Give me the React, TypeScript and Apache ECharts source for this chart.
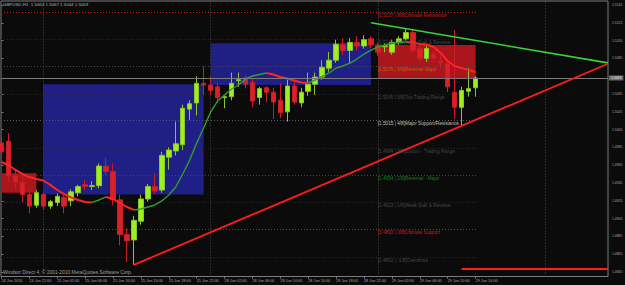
import React, { useEffect, useRef } from "react";
import * as echarts from "echarts";

const FONT = "Liberation Sans";

const timeLabels = ["24 Jun 2010", "24 Jun 22:00", "25 Jun 02:00", "25 Jun 06:00", "25 Jun 10:00", "25 Jun 14:00", "25 Jun 18:00", "25 Jun 22:00", "28 Jun 02:00", "28 Jun 06:00", "28 Jun 10:00", "28 Jun 14:00", "28 Jun 18:00", "28 Jun 22:00", "29 Jun 02:00", "29 Jun 06:00", "29 Jun 10:00", "29 Jun 14:00"];
const timeLabelBars = [0, 4, 8, 12, 16, 20, 24, 28, 32, 36, 40, 44, 48, 52, 56, 60, 64, 68];
const priceTicks = [1.4845, 1.4865, 1.4885, 1.4905, 1.4925, 1.4945, 1.4965, 1.4985, 1.5005, 1.5025, 1.5045, 1.5085, 1.5105, 1.5125, 1.5145];

const opens = [1.4990, 1.4992, 1.4953, 1.4946, 1.4932, 1.4920, 1.4932, 1.4919, 1.4923, 1.4929,
  1.4925, 1.4934, 1.4943, 1.4941, 1.4942, 1.4964, 1.4958, 1.4926, 1.4887, 1.4881,
  1.4902, 1.4927, 1.4941, 1.4937, 1.4974, 1.4981, 1.4988, 1.5028, 1.5035, 1.5057,
  1.5055, 1.5053, 1.5041, 1.5042, 1.5060, 1.5063, 1.5058, 1.5041, 1.5052, 1.5047,
  1.5038, 1.5025, 1.5054, 1.5035, 1.5048, 1.5056, 1.5064, 1.5074, 1.5083, 1.5101,
  1.5094, 1.5103, 1.5099, 1.5107, 1.5100, 1.5098, 1.5092, 1.5103, 1.5107, 1.5114,
  1.5096, 1.5085, 1.5090, 1.5082, 1.5079, 1.5047, 1.5030, 1.5048, 1.5052];
const closes = [1.4980, 1.4953, 1.4946, 1.4932, 1.4919, 1.4934, 1.4919, 1.4924, 1.4930, 1.4919,
  1.4935, 1.4941, 1.4941, 1.4942, 1.4964, 1.4958, 1.4926, 1.4887, 1.4880, 1.4903,
  1.4927, 1.4941, 1.4936, 1.4976, 1.4982, 1.4989, 1.5029, 1.5034, 1.5057, 1.5055,
  1.5049, 1.5041, 1.5042, 1.5057, 1.5061, 1.5056, 1.5037, 1.5051, 1.5047, 1.5036,
  1.5024, 1.5054, 1.5036, 1.5047, 1.5056, 1.5064, 1.5075, 1.5083, 1.5101, 1.5094,
  1.5103, 1.5099, 1.5106, 1.5100, 1.5092, 1.5099, 1.5103, 1.5107, 1.5114, 1.5094,
  1.5085, 1.5096, 1.5085, 1.5080, 1.5053, 1.5030, 1.5049, 1.5051, 1.5063];
const lows = [1.4973, 1.4945, 1.4937, 1.4923, 1.4911, 1.4917, 1.4915, 1.4916, 1.4919, 1.4911,
  1.4919, 1.4930, 1.4937, 1.4937, 1.4939, 1.4954, 1.4920, 1.4875, 1.4856, 1.4853,
  1.4898, 1.4924, 1.4933, 1.4934, 1.4960, 1.4976, 1.4982, 1.5016, 1.5021, 1.5044,
  1.5044, 1.5035, 1.5029, 1.5038, 1.5053, 1.5052, 1.5030, 1.5033, 1.5036, 1.5017,
  1.5018, 1.5014, 1.5033, 1.5030, 1.5043, 1.5044, 1.5061, 1.5070, 1.5080, 1.5089,
  1.5080, 1.5094, 1.5096, 1.5097, 1.5088, 1.5092, 1.5089, 1.5100, 1.5105, 1.5091,
  1.5081, 1.5081, 1.5081, 1.5074, 1.5047, 1.5017, 1.5010, 1.5042, 1.5042];
const highs = [1.4996, 1.5001, 1.4960, 1.4953, 1.4937, 1.4937, 1.4935, 1.4926, 1.4933, 1.4932,
  1.4938, 1.4943, 1.4948, 1.4947, 1.4967, 1.4973, 1.4967, 1.4932, 1.4894, 1.4908,
  1.4932, 1.4944, 1.4956, 1.4980, 1.4985, 1.5014, 1.5033, 1.5038, 1.5065, 1.5076,
  1.5065, 1.5057, 1.5044, 1.5069, 1.5069, 1.5066, 1.5063, 1.5053, 1.5054, 1.5052,
  1.5057, 1.5061, 1.5061, 1.5052, 1.5069, 1.5069, 1.5083, 1.5092, 1.5106, 1.5108,
  1.5108, 1.5110, 1.5111, 1.5110, 1.5103, 1.5102, 1.5106, 1.5110, 1.5119, 1.5117,
  1.5099, 1.5099, 1.5094, 1.5089, 1.5081, 1.5117, 1.5053, 1.5074, 1.5065];

const maValues = [1.49686, 1.49652, 1.49596, 1.49551, 1.49517, 1.49495, 1.49478, 1.49428, 1.49371, 1.49326,
  1.49287, 1.49259, 1.49237, 1.49231, 1.49259, 1.49293, 1.49270, 1.49225, 1.49180, 1.49147,
  1.49158, 1.49180, 1.49203, 1.49248, 1.49315, 1.49405, 1.49551, 1.49708, 1.49899, 1.50068,
  1.50248, 1.50371, 1.50439, 1.50506, 1.50551, 1.50619, 1.50652, 1.50669, 1.50686, 1.50669,
  1.50641, 1.50624, 1.50602, 1.50579, 1.50574, 1.50607, 1.50647, 1.50686, 1.50742, 1.50765,
  1.50798, 1.50843, 1.50899, 1.50944, 1.50978, 1.51001, 1.51017, 1.51029, 1.51034, 1.51029,
  1.51012, 1.51006, 1.50978, 1.50911, 1.50821, 1.50765, 1.50742, 1.50720, 1.50697];

const mmLevels = [1.5137, 1.5106, 1.5076, 1.5045, 1.5015, 1.4984, 1.4954, 1.4923, 1.4893, 1.4862];
const mmNames = ["8/8]Ultimate Resistance", "7/8]Weak Stall & Reverse", "6/8]Reversal Major", "5/8]Top Trading Range", "4/8]Major Support/Resistance", "3/8]Bottom - Trading Range", "2/8]Reversal - Major", "1/8]Weak Stall & Reverse", "0/8]Ultimate Support", "-1/8]Overshoot"];
const mmTextColors = ["#e02424", "#5a5a5a", "#c47a1a", "#5a5a5a", "#e6e6e6", "#5a5a5a", "#1f9a1f", "#5a5a5a", "#f02020", "#5a5a5a"];
const mmLineColors = ["#c81c1c", "#262626", "#4a4a4a", "#262626", "#5a5a5a", "#262626", "#2c5a2c", "#262626", "#c81c1c", "#262626"];

const boxStart = [6, 30, 54, -0.07];
const boxEnd = [29, 53, 68, 5];
const boxTop = [1.5056, 1.5102, 1.5100, 1.4956];
const boxBottom = [1.4932, 1.5055, 1.5062, 1.4934];
const boxColors = ["#1f1f86", "#1f1f86", "#aa161b", "#aa161b"];

const daySeparators = [6, 30, 54, 78];
const currentPrice = 1.5063;
const trendGreen = [[53, 1.5125], [87, 1.5080]];
const trendRed = [[19, 1.4853], [87, 1.5079]];
const supportLine = [[66, 1.4849], [87, 1.4849]];

const X_MIN = -0.07;
const X_MAX = 87;
const Y_MIN = 1.48399;
const Y_MAX = 1.51495;

export default function App() {
  const ref = useRef<HTMLDivElement>(null);
  useEffect(() => {
    document.body.style.margin = "0";
    const chart = echarts.init(ref.current!, null, { renderer: "svg" });

    const candleData = opens.map((o, i) => [i, o, closes[i], lows[i], highs[i]]);
    const up = (i: number) => i > 0 && maValues[i] > maValues[i - 1];
    const greenData = maValues.map((v, i) => (up(i) || (i + 1 < maValues.length && up(i + 1)) ? [i, v] : [i, "-"]));
    const redData = maValues.map((v, i) => ((i > 0 && !up(i)) || (i + 1 < maValues.length && !up(i + 1)) ? [i, v] : [i, "-"]));

    const boxAreas = boxStart.map((s, i) => [
      { coord: [s, boxTop[i]], itemStyle: { color: boxColors[i], opacity: 1 } },
      { coord: [boxEnd[i], boxBottom[i]] },
    ]);

    const mmLines = mmLevels.map((p, i) => [
      { coord: [X_MIN, p], lineStyle: { color: mmLineColors[i], width: 1, type: [1, 2] } },
      { coord: [68.2, p] },
    ]);
    const sepLines = daySeparators.map((x) => [
      { coord: [x, Y_MIN], lineStyle: { color: "#4a4a4a", width: 1, type: [1, 2] } },
      { coord: [x, Y_MAX] },
    ]);

    const option: any = {
      animation: false,
      backgroundColor: "#0b0b0b",
      title: [
        {
          text: "GBPUSD,H1  1.5063 1.5067 1.5044 1.5063",
          left: 3, top: 2, padding: 0,
          textStyle: { color: "#b4b4b4", fontSize: 4.4, fontWeight: "normal", fontFamily: FONT },
        },
        {
          text: "Windsor Direct 4, © 2001-2010 MetaQuotes Software Corp.",
          left: 3, top: 270, padding: 0,
          textStyle: { color: "#a0a0a0", fontSize: 4.9, fontWeight: "normal", fontFamily: FONT },
        },
      ],
      grid: {
        left: 1, right: 17, top: 1, bottom: 8.5,
        show: true, borderColor: "#7c7c7c", borderWidth: 1, backgroundColor: "transparent",
        containLabel: false, outerBoundsMode: "none",
      },
      xAxis: {
        type: "value", min: X_MIN, max: X_MAX,
        splitLine: { show: false },
        axisLine: { show: false },
        axisTick: { show: true, customValues: timeLabelBars, length: 2, lineStyle: { color: "#7c7c7c" } },
        axisLabel: {
          customValues: timeLabelBars,
          formatter: (v: number) => {
            const k = timeLabelBars.indexOf(Math.round(v));
            return k >= 0 ? timeLabels[k] : "";
          },
          align: "left", margin: 2.2, color: "#a8a8a8", fontSize: 3.8, fontFamily: FONT,
        },
      },
      yAxis: {
        type: "value", position: "right", min: Y_MIN, max: Y_MAX,
        splitLine: { show: false },
        axisLine: { show: false },
        axisTick: { show: true, customValues: priceTicks, length: 2, lineStyle: { color: "#7c7c7c" } },
        axisLabel: {
          customValues: priceTicks,
          formatter: (v: number) => v.toFixed(4),
          margin: 4, color: "#a8a8a8", fontSize: 3.4, fontFamily: FONT,
        },
      },
      series: [
        {
          type: "candlestick",
          z: 2,
          barWidth: 5,
          encode: { x: 0, y: [1, 2, 3, 4] },
          data: candleData,
          itemStyle: {
            color: "#9cf01e",
            color0: "#dc2029",
            borderColor: "#8cc62a",
            borderColor0: "#c81e26",
            borderWidth: 1,
          },
          markArea: { silent: true, z: 1, data: boxAreas },
          markLine: {
            silent: true, z: 1.5, symbol: ["none", "none"],
            label: { show: false },
            data: [...mmLines, ...sepLines],
          },
        },
        {
          type: "line", z: 3, data: greenData, showSymbol: false, connectNulls: false,
          lineStyle: { color: "#2f9f2f", width: 1.4 },
        },
        {
          type: "line", z: 3, data: redData, showSymbol: false, connectNulls: false,
          lineStyle: { color: "#ff2424", width: 2 },
          markLine: {
            silent: true, z: 4, symbol: ["none", "none"],
            label: { show: false },
            data: [
              [
                {
                  coord: [X_MIN, currentPrice],
                  lineStyle: { color: "#7a7a7a", width: 1, type: "solid" },
                  label: {
                    show: true, position: "end", distance: 1, formatter: currentPrice.toFixed(4),
                    backgroundColor: "#6c6c6c", color: "#ececec", padding: [1, 2],
                    fontSize: 3.4, fontFamily: FONT,
                  },
                },
                { coord: [X_MAX, currentPrice] },
              ],
              [{ coord: trendGreen[0], lineStyle: { color: "#38d438", width: 1.6, type: "solid" } }, { coord: trendGreen[1] }],
              [{ coord: trendRed[0], lineStyle: { color: "#ff1c1c", width: 1.8, type: "solid" } }, { coord: trendRed[1] }],
              [{ coord: supportLine[0], lineStyle: { color: "#ff1c1c", width: 2, type: "solid" } }, { coord: supportLine[1] }],
            ],
          },
        },
        {
          type: "scatter", z: 5, symbol: "circle", symbolSize: 1,
          itemStyle: { color: "rgba(0,0,0,0)" },
          data: mmLevels.map((p, i) => ({
            value: [53.9, p],
            label: { color: mmTextColors[i] },
          })),
          label: {
            show: true, position: "right", distance: 0, offset: [0, 3.2],
            fontSize: 4.7, fontFamily: FONT,
            formatter: (params: any) => `[${mmLevels[params.dataIndex].toFixed(4)} | ${mmNames[params.dataIndex]}`,
          },
        },
      ],
    };
    chart.setOption(option);
    return () => chart.dispose();
  }, []);
  return (
    <div
      ref={ref}
      style={{ position: "fixed", left: 0, top: 0, width: 625, height: 285, background: "#0b0b0b" }}
    />
  );
}
